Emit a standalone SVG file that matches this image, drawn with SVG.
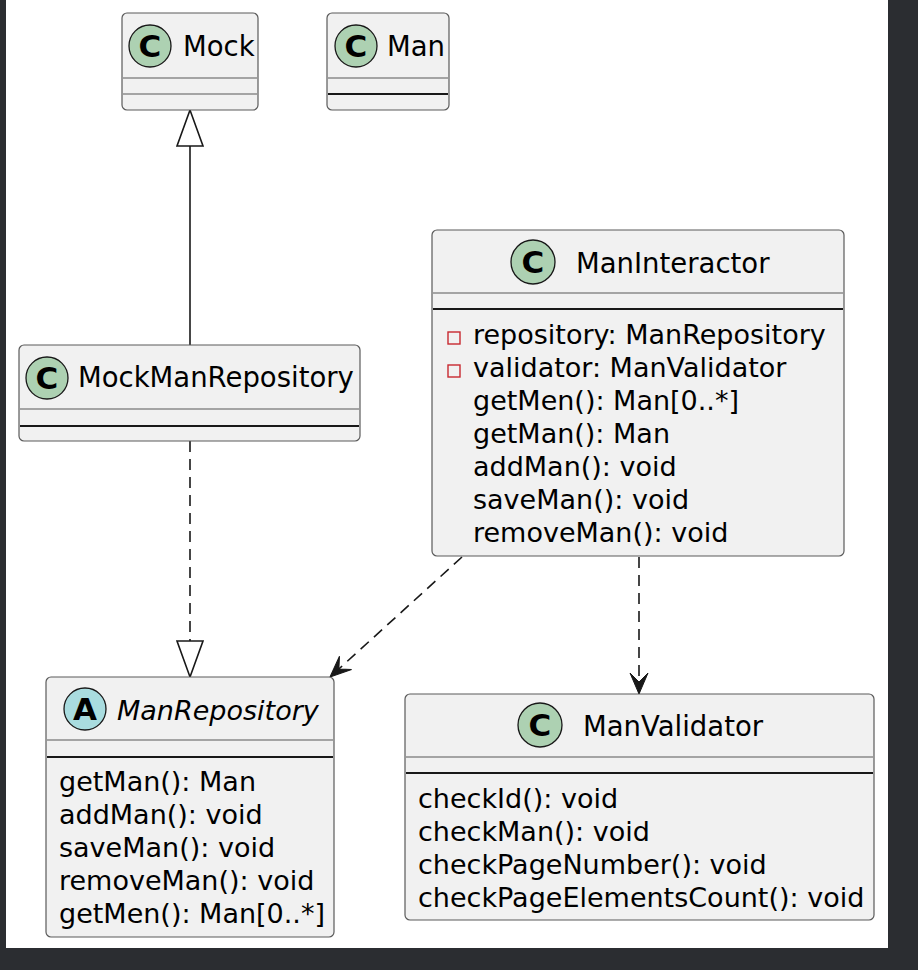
<svg xmlns="http://www.w3.org/2000/svg" width="918" height="970" viewBox="0 0 918 970">
<style>
.box{fill:#F1F1F1;stroke:#5a5a5a;stroke-width:1.2}
.sepg{stroke:#8a8a8a;stroke-width:1.3}
.sepb{stroke:#181818;stroke-width:2}
.circ{stroke:#181818;stroke-width:1.3}
.cc{fill:#ADD1B2}
.ca{fill:#A9DCDF}
.sp{font-family:"DejaVu Sans",sans-serif;font-weight:bold;font-size:31px;fill:#000;text-anchor:middle}
.nm{font-family:"DejaVu Sans",sans-serif;font-size:27.5px;fill:#000}
.it{font-style:italic;font-size:27px}
.mb{font-family:"DejaVu Sans",sans-serif;font-size:27px;fill:#000}
.priv{fill:none;stroke:#C82930;stroke-width:1.4}
.ln{fill:none;stroke:#181818;stroke-width:1.6}
.dash{stroke-dasharray:11,7}
</style>
<defs>
<marker id="tri" markerUnits="userSpaceOnUse" markerWidth="40" markerHeight="30" refX="0" refY="0" orient="auto" overflow="visible">
<path d="M0,0 L-36,-13 L-36,13 Z" fill="#FFFFFF" stroke="#181818" stroke-width="1.6"/>
</marker>
<marker id="open" markerUnits="userSpaceOnUse" markerWidth="30" markerHeight="30" refX="0" refY="0" orient="auto" overflow="visible">
<path d="M0,0 L-21,-9 L-12,0 L-21,9 Z" fill="#181818" stroke="#181818" stroke-width="1"/>
</marker>
</defs>
<rect x="0" y="0" width="918" height="970" fill="#2B2D31"/>
<rect x="6" y="0" width="882" height="948" fill="#FFFFFF"/>

<g id="connectors">
<path class="ln" d="M190,345 L190,110" marker-end="url(#tri)"/>
<path class="ln dash" d="M190,441 L190,677" marker-end="url(#tri)"/>
<path class="ln dash" d="M462,557 L330,677" marker-end="url(#open)"/>
<path class="ln dash" d="M639,557 L639,694" marker-end="url(#open)"/>
</g>

<g id="Mock">
<rect class="box" x="122" y="13" width="136" height="97" rx="5"/>
<circle class="circ cc" cx="150" cy="46" r="21"/>
<text class="sp" x="150" y="57">C</text>
<text class="nm" x="183" y="56">Mock</text>
<line class="sepg" x1="123" y1="78" x2="257" y2="78"/>
<line class="sepg" x1="123" y1="94" x2="257" y2="94"/>
</g>

<g id="Man">
<rect class="box" x="327" y="13" width="122" height="97" rx="5"/>
<circle class="circ cc" cx="356" cy="46" r="21"/>
<text class="sp" x="356" y="57">C</text>
<text class="nm" x="387" y="56">Man</text>
<line class="sepg" x1="328" y1="78" x2="448" y2="78"/>
<line class="sepb" x1="328" y1="94" x2="448" y2="94"/>
</g>

<g id="MockManRepository">
<rect class="box" x="19" y="345" width="341" height="96" rx="5"/>
<circle class="circ cc" cx="47" cy="378" r="21"/>
<text class="sp" x="47" y="389">C</text>
<text class="nm" x="78" y="387">MockManRepository</text>
<line class="sepg" x1="20" y1="409" x2="359" y2="409"/>
<line class="sepb" x1="20" y1="426" x2="359" y2="426"/>
</g>

<g id="ManInteractor">
<rect class="box" x="432" y="230" width="412" height="326" rx="5"/>
<circle class="circ cc" cx="533" cy="262" r="22"/>
<text class="sp" x="533" y="273">C</text>
<text class="nm" x="576" y="273">ManInteractor</text>
<line class="sepg" x1="433" y1="293" x2="843" y2="293"/>
<line class="sepb" x1="433" y1="309" x2="843" y2="309"/>
<rect class="priv" x="448" y="332" width="12" height="12"/>
<text class="mb" x="473" y="344">repository: ManRepository</text>
<rect class="priv" x="448" y="365" width="12" height="12"/>
<text class="mb" x="473" y="377">validator: ManValidator</text>
<text class="mb" x="473" y="410">getMen(): Man[0..*]</text>
<text class="mb" x="473" y="443">getMan(): Man</text>
<text class="mb" x="473" y="476">addMan(): void</text>
<text class="mb" x="473" y="509">saveMan(): void</text>
<text class="mb" x="473" y="542">removeMan(): void</text>
</g>

<g id="ManRepository">
<rect class="box" x="46" y="677" width="288" height="260" rx="5"/>
<circle class="circ ca" cx="85" cy="709" r="21"/>
<text class="sp" x="85" y="720">A</text>
<text class="nm it" x="117" y="720">ManRepository</text>
<line class="sepg" x1="47" y1="740" x2="333" y2="740"/>
<line class="sepb" x1="47" y1="757" x2="333" y2="757"/>
<text class="mb" x="59" y="791">getMan(): Man</text>
<text class="mb" x="59" y="824">addMan(): void</text>
<text class="mb" x="59" y="857">saveMan(): void</text>
<text class="mb" x="59" y="890">removeMan(): void</text>
<text class="mb" x="59" y="923">getMen(): Man[0..*]</text>
</g>

<g id="ManValidator">
<rect class="box" x="405" y="694" width="469" height="226" rx="5"/>
<circle class="circ cc" cx="540" cy="725" r="22"/>
<text class="sp" x="540" y="736">C</text>
<text class="nm" x="583" y="736">ManValidator</text>
<line class="sepg" x1="406" y1="757" x2="873" y2="757"/>
<line class="sepb" x1="406" y1="773" x2="873" y2="773"/>
<text class="mb" x="418" y="808">checkId(): void</text>
<text class="mb" x="418" y="841">checkMan(): void</text>
<text class="mb" x="418" y="874">checkPageNumber(): void</text>
<text class="mb" x="418" y="907">checkPageElementsCount(): void</text>
</g>
</svg>
